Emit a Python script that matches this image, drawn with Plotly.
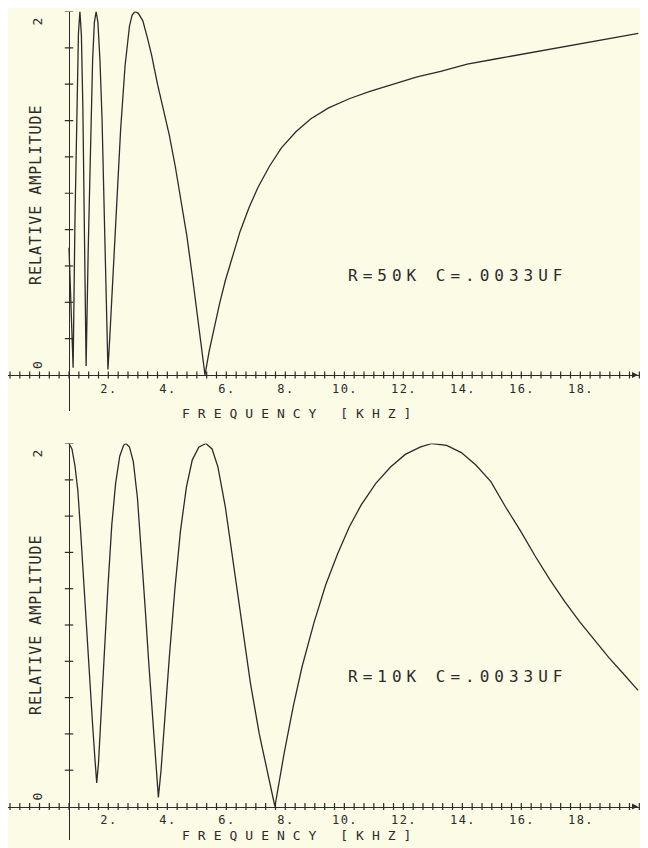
import plotly.graph_objects as go

# ---------------- data ----------------
# top panel: R=50K, C=.0033UF  (frequency kHz, relative amplitude)
freq_top = [0.00, 0.07, 0.14, 0.20, 0.26, 0.32, 0.37, 0.42, 0.47, 0.52, 0.58,
            0.65, 0.72, 0.80, 0.86, 0.92, 0.98, 1.05, 1.12, 1.20, 1.27, 1.32,
            1.38, 1.45, 1.60, 1.75, 1.90, 2.05, 2.14, 2.24, 2.35, 2.50, 2.65,
            2.80, 3.00, 3.20, 3.40, 3.60, 3.80, 4.00, 4.20, 4.40, 4.61, 4.75,
            4.90, 5.10, 5.30, 5.55, 5.80, 6.10, 6.40, 6.80, 7.20, 7.70, 8.20,
            8.80, 9.50, 10.2, 11.0, 11.8, 12.6, 13.5, 14.5, 15.5, 16.5, 17.5,
            18.5, 19.3]
amp_top = [0.70, 0.30, 0.04, 0.83, 1.47, 1.88, 2.00, 1.87, 1.47, 0.86, 0.05,
           0.68, 1.23, 1.73, 1.94, 2.00, 1.94, 1.73, 1.41, 0.91, 0.41, 0.03,
           0.20, 0.43, 0.90, 1.35, 1.70, 1.92, 1.98, 2.00, 1.99, 1.95, 1.86,
           1.76, 1.60, 1.46, 1.32, 1.15, 0.96, 0.76, 0.52, 0.27, 0.00, 0.13,
           0.25, 0.39, 0.52, 0.66, 0.79, 0.92, 1.03, 1.15, 1.25, 1.34, 1.41,
           1.47, 1.52, 1.56, 1.60, 1.64, 1.67, 1.71, 1.74, 1.77, 1.80, 1.83,
           1.86, 1.88]

# bottom panel: R=10K, C=.0033UF
freq_bot = [0.00, 0.10, 0.20, 0.30, 0.40, 0.50, 0.60, 0.70, 0.80, 0.88, 0.94,
            1.00, 1.10, 1.20, 1.32, 1.45, 1.58, 1.72, 1.85, 1.93, 2.05, 2.18,
            2.32, 2.45, 2.58, 2.70, 2.82, 2.93, 3.03, 3.12, 3.25, 3.40, 3.59,
            3.78, 3.98, 4.18, 4.40, 4.64, 4.85, 5.05, 5.30, 5.56, 5.85, 6.15,
            6.45, 6.71, 6.98, 7.30, 7.60, 7.90, 8.30, 8.70, 9.10, 9.50, 9.90,
            10.4, 10.9, 11.4, 11.9, 12.3, 12.8, 13.3, 13.8, 14.3, 14.8, 15.3,
            15.8, 16.3, 16.8, 17.3, 17.8, 18.3, 18.8, 19.29]
amp_bot = [2.00, 1.97, 1.88, 1.74, 1.50, 1.22, 0.95, 0.68, 0.45, 0.26, 0.13,
           0.24, 0.52, 0.85, 1.21, 1.55, 1.78, 1.93, 1.99, 2.00, 1.98, 1.90,
           1.70, 1.42, 1.10, 0.80, 0.52, 0.28, 0.05, 0.20, 0.50, 0.82, 1.20,
           1.52, 1.76, 1.91, 1.98, 2.00, 1.97, 1.87, 1.65, 1.35, 1.00, 0.68,
           0.40, 0.20, 0.00, 0.30, 0.55, 0.77, 1.01, 1.22, 1.39, 1.54, 1.66,
           1.78, 1.87, 1.94, 1.98, 2.00, 1.99, 1.95, 1.88, 1.79, 1.65, 1.52,
           1.38, 1.25, 1.13, 1.02, 0.92, 0.82, 0.73, 0.64]

x_tick_vals = [2, 4, 6, 8, 10, 12, 14, 16, 18]
x_tick_text = ["2.", "4.", "6.", "8.", "10.", "12.", "14.", "16.", "18."]
y_label_vals = [0, 2]
y_label_text = ["0", "2"]
labels = ["R=50K C=.0033UF", "R=10K C=.0033UF"]

# ---------------- layout geometry (reference pixels) ----------------
OFF = 8                      # page body margin
W, H = 648 - OFF, 848 - OFF  # figure size
X0_PX, PX_PER_KHZ = 69, 29.5
X_LEFT_PX, X_RIGHT_PX = 8, 641

def fx(px):
    return (px - X0_PX) / PX_PER_KHZ

def pxx(px):
    return (px - OFF) / W

def pxy(py):
    return 1 - (py - OFF) / H

panels = [
    dict(y0=375, y2=11.5, ybot=411, title_y=195, freq_y=413, lab_y=275),
    dict(y0=806.5, y2=443.5, ybot=840, title_y=625, freq_y=835, lab_y=676),
]

INK = "#2b2b2b"
FONT = "DejaVu Sans Mono"

fig = go.Figure()

data_sets = [(freq_top, amp_top), (freq_bot, amp_bot)]
tick_minor_x = [k / 3 for k in range(-6, 59)]
tick_minor_y = [0.2 * k for k in range(1, 11)]
spaced_ticks = ['<span style="letter-spacing:1.5px">' + t + '</span>' for t in x_tick_text]

for i, (p, (fr, am)) in enumerate(zip(panels, data_sets)):
    sfx = "" if i == 0 else str(i + 1)
    xa, ya = "x" + sfx, "y" + sfx
    per_unit = (p["y0"] - p["y2"]) / 2.0
    ymin = (p["y0"] - p["ybot"]) / per_unit
    fig.add_trace(go.Scatter(x=fr, y=am, mode="lines", xaxis=xa, yaxis=ya,
                             line=dict(color=INK, width=1.3), showlegend=False,
                             hoverinfo="skip"))
    # axis cross-ticks
    fig.add_trace(go.Scatter(x=tick_minor_x, y=[0] * len(tick_minor_x), mode="markers",
                             xaxis=xa, yaxis=ya, showlegend=False, hoverinfo="skip",
                             marker=dict(symbol="line-ns", size=5,
                                         line=dict(color=INK, width=1.2))))
    fig.add_trace(go.Scatter(x=[0] * len(tick_minor_y), y=tick_minor_y, mode="markers",
                             xaxis=xa, yaxis=ya, showlegend=False, hoverinfo="skip",
                             marker=dict(symbol="line-ew", size=6,
                                         line=dict(color=INK, width=1.2))))
    # arrow head at the end of the frequency axis
    fig.add_trace(go.Scatter(x=[fx(X_RIGHT_PX - 3)], y=[0], mode="markers",
                             xaxis=xa, yaxis=ya, showlegend=False, hoverinfo="skip",
                             marker=dict(symbol="arrow-right", size=6, color=INK,
                                         line=dict(width=0))))
    fig.layout["xaxis" + sfx] = dict(
        domain=[pxx(X_LEFT_PX), pxx(X_RIGHT_PX)],
        range=[fx(X_LEFT_PX), fx(X_RIGHT_PX)],
        anchor="free", position=pxy(p["y0"]),
        showline=True, linecolor=INK, linewidth=1.3,
        showgrid=False, zeroline=False, ticks="",
        tickvals=x_tick_vals, ticktext=spaced_ticks,
        tickfont=dict(family=FONT, size=12, color=INK),
        ticklabelshift=-19, ticklabelstandoff=2,
    )
    fig.layout["yaxis" + sfx] = dict(
        domain=[pxy(p["ybot"]), pxy(p["y2"])],
        range=[ymin, 2.0],
        anchor="free", position=pxx(X0_PX),
        showline=True, linecolor=INK, linewidth=1.3,
        showgrid=False, zeroline=False, ticks="", showticklabels=False,
    )
    # y value labels (rotated, plotter style)
    for v, t, sh in zip(y_label_vals, y_label_text, [10, -10]):
        fig.add_annotation(x=pxx(37), xref="paper", y=v, yref=ya, text=t,
                           xanchor="center", yanchor="middle",
                           textangle=-90, showarrow=False, yshift=sh,
                           font=dict(family=FONT, size=13, color=INK))
    # axis titles
    fig.add_annotation(x=pxx(36), xref="paper", y=pxy(p["title_y"]), yref="paper",
                       text='<span style="letter-spacing:1px">RELATIVE AMPLITUDE</span>',
                       xanchor="center", yanchor="middle",
                       textangle=-90, showarrow=False,
                       font=dict(family=FONT, size=15, color=INK))
    fig.add_annotation(x=pxx(300), xref="paper", y=pxy(p["freq_y"]), yref="paper",
                       text='<span style="letter-spacing:8px">FREQUENCY [KHZ]</span>',
                       xanchor="center", yanchor="middle", showarrow=False,
                       font=dict(family=FONT, size=13, color=INK))
    # circuit label
    fig.add_annotation(x=pxx(458), xref="paper", y=pxy(p["lab_y"]), yref="paper",
                       text='<span style="letter-spacing:5px">' + labels[i] + '</span>',
                       xanchor="center", yanchor="middle", showarrow=False,
                       font=dict(family=FONT, size=16, color=INK))

fig.update_layout(
    width=W, height=H, autosize=False,
    margin=dict(l=0, r=0, t=0, b=0),
    paper_bgcolor="#fbfbe6", plot_bgcolor="rgba(0,0,0,0)",
    showlegend=False,
)

fig.write_html("out.html")
